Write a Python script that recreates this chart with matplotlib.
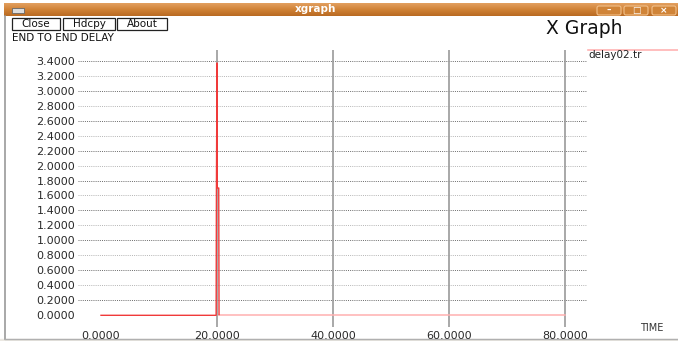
import numpy as np
import matplotlib
matplotlib.use('Agg')
import matplotlib.pyplot as plt
from matplotlib.patches import Rectangle, FancyBboxPatch

# delay02.tr : end to end delay against simulation time
time = [0.0, 19.85, 19.9, 20.0, 20.05, 20.3, 20.35, 80.0]
delay = [0.0, 0.0, 1.70, 3.37, 1.70, 1.70, 0.01, 0.01]
split = 6  # points after the burst are drawn lighter

x_ticks = [0.0, 20.0, 40.0, 60.0, 80.0]
y_ticks = [0.0, 0.2, 0.4, 0.6, 0.8, 1.0, 1.2, 1.4, 1.6, 1.8,
           2.0, 2.2, 2.4, 2.6, 2.8, 3.0, 3.2, 3.4]

W, H = 678, 341
fig = plt.figure(figsize=(W / 100, H / 100), dpi=100)
fig.patch.set_facecolor('white')

# window chrome, drawn in pixel coordinates
bg = fig.add_axes([0, 0, 1, 1])
bg.set_xlim(0, W)
bg.set_ylim(H, 0)
bg.axis('off')

# title bar gradient
grad = np.linspace(0, 1, 50).reshape(-1, 1)
cmap = matplotlib.colors.LinearSegmentedColormap.from_list(
    'bar', ['#e3a060', '#d08236', '#b96a22'])
bg.imshow(grad, cmap=cmap, extent=[4, W, 16, 3], aspect='auto', zorder=1)
bg.add_patch(Rectangle((0, 339), W, 2, color='#ebe8e2', zorder=1))
bg.plot([4.5, 4.5], [16, 339], color='#9a9a9a', lw=1.2, zorder=2)
bg.plot([4.5, W], [339, 339], color='#b0b0b0', lw=1.0, zorder=2)
bg.add_patch(Rectangle((12, 8), 12, 5, facecolor='#dcdcdc', edgecolor='#666666', lw=0.6, zorder=3))
bg.text(316, 9.5, 'xgraph', color='white', fontsize=7.5, fontweight='bold',
        ha='center', va='center', zorder=3)

for x0, sym in [(597, '\u2013'), (624, '\u25a1'), (652, '\u00d7')]:
    bg.add_patch(FancyBboxPatch((x0, 6), 24, 9, boxstyle='round,pad=0,rounding_size=2',
                                facecolor='#d08438', edgecolor='#f2c08a', lw=0.8, zorder=3))
    bg.text(x0 + 12, 10.5, sym, color='white', fontsize=6.5, fontweight='bold',
            ha='center', va='center', zorder=4)

for x0, x1, label in [(12, 60, 'Close'), (63, 115, 'Hdcpy'), (117, 167, 'About')]:
    bg.add_patch(Rectangle((x0, 18), x1 - x0, 11.5, facecolor='white',
                           edgecolor='#222222', lw=0.9, zorder=3))
    bg.text((x0 + x1) / 2, 24, label, fontsize=7.5, color='#111111',
            ha='center', va='center', zorder=4)

bg.text(12, 38, 'END TO END DELAY', fontsize=7.5, color='#111111', va='center')
bg.text(546, 29, 'X Graph', fontsize=13.5, color='#111111', va='center')
bg.text(640, 328, 'TIME', fontsize=7, color='#333333', va='center')

# legend entry
bg.plot([588, W], [50, 50], color='#ffb3b3', lw=1.2)
bg.text(588, 54.5, 'delay02.tr', fontsize=7.5, color='#222222', va='center')

# plot area
left, right, top, bottom = 78, 587, 50, 327
ax = fig.add_axes([left / W, (H - bottom) / H, (right - left) / W, (bottom - top) / H])
ax.set_facecolor('none')
px_x = (565 - 101) / 80.0
ax.set_xlim(-(101 - left) / px_x, 80 + (right - 565) / px_x)
px_y = (315.3 - 60.7) / 3.4
ax.set_ylim(-(bottom - 315.3) / px_y, 3.4 + (60.7 - top) / px_y)
for s in ax.spines.values():
    s.set_visible(False)

for i, v in enumerate(y_ticks):
    if v == 0.0:
        continue
    ax.axhline(v, color='#6a6a6a' if i % 2 else '#b4b4b4', lw=0.7,
               linestyle=(0, (1, 1.2)), zorder=1)
for v in x_ticks[1:]:
    ax.axvline(v, color='#9a9a9a', lw=1.2, zorder=1)

ax.set_yticks(y_ticks)
ax.set_yticklabels([f'{v:.4f}' for v in y_ticks])
ax.set_xticks(x_ticks)
ax.set_xticklabels([f'{v:.4f}' for v in x_ticks])
ax.tick_params(length=0, labelsize=8, colors='#2a2a2a')
ax.tick_params(axis='y', pad=2)
ax.tick_params(axis='x', pad=3)

ax.plot(time[:split + 1], delay[:split + 1], color='#f03a3a', lw=1.0, zorder=3)
ax.plot(time[split:], delay[split:], color='#ffb0b0', lw=1.1, zorder=2)

fig.savefig('out.png', dpi=100)
